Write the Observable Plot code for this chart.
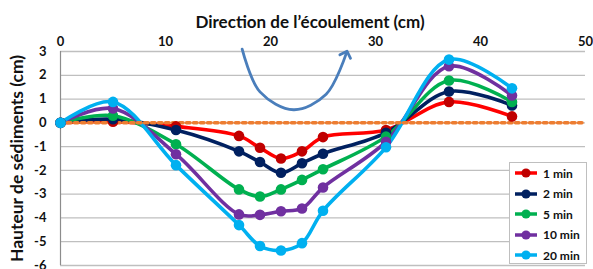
<!DOCTYPE html>
<html>
<head>
<meta charset="utf-8">
<script src="https://cdn.jsdelivr.net/npm/d3@7"></script>
<script src="https://cdn.jsdelivr.net/npm/@observablehq/plot@0.6"></script>
<style>
  html, body { margin: 0; padding: 0; background: #fff; }
  #wrap { position: relative; width: 593px; height: 269px; overflow: hidden; font-family: Lato, "Open Sans", sans-serif; }
  #legend { position: absolute; left: 509px; top: 162px; width: 78px; height: 102px; box-sizing: border-box;
            border: 1px solid #bfbfbf; background: #fff; }
  .row { position: absolute; left: 0; height: 20px; display: flex; align-items: center; }
  .row svg { margin-left: 5px; }
  .row span { margin-left: 6px; font-weight: bold; font-size: 12px; color: #111; }
</style>
</head>
<body>
<div id="wrap"></div>
<script>
const xTitle = "Direction de l\u2019écoulement (cm)";
const yTitle = "Hauteur de sédiments (cm)";
const xTicks = [0, 10, 20, 30, 40, 50];
const yTicks = [3, 2, 1, 0, -1, -2, -3, -4, -5, -6];

const positions = [0, 5, 11, 17, 19, 21, 23, 25, 31, 37, 43];
const seriesNames = ["1 min", "2 min", "5 min", "10 min", "20 min"];
const s1min  = [0, 0.05, -0.15, -0.55, -1.05, -1.5, -1.2, -0.6, -0.3, 0.88, 0.27];
const s2min  = [0, 0.15, -0.3, -1.2, -1.65, -2.1, -1.7, -1.3, -0.42, 1.32, 0.73];
const s5min  = [0, 0.3, -0.9, -2.8, -3.1, -2.8, -2.4, -1.95, -0.58, 1.78, 0.88];
const s10min = [0, 0.6, -1.32, -3.85, -3.87, -3.72, -3.6, -2.72, -0.8, 2.38, 1.15];
const s20min = [0, 0.88, -1.78, -4.3, -5.18, -5.37, -5.06, -3.7, -1.03, 2.66, 1.45];
const lineColors = ["#ff0000", "#002060", "#00b050", "#7030a0", "#00b0f0"];
const dotColors  = ["#c00000", "#002060", "#00b050", "#7030a0", "#00b0f0"];

const zeroX = [0, 50];
const zeroY = [0, 0];

// annotation arrow (flow direction), in data units
const arrowX = [17.3, 19, 22.2, 25.3, 27.2];
const arrowY = [3.1, 1.3, 0.55, 1.2, 2.9];

const allSeries = [s1min, s2min, s5min, s10min, s20min];
const tables = allSeries.map((vals, i) => positions.map((x, j) => ({x, y: vals[j], series: seriesNames[i]})));
const zeroData = zeroX.map((x, i) => ({x, y: zeroY[i]}));
const arrowData = arrowX.map((x, i) => ({x, y: arrowY[i]}));

const font = "Lato, 'Open Sans', sans-serif";
const marks = [
  Plot.gridY(yTicks, {stroke: "#bfbfbf", strokeOpacity: 1, strokeWidth: 1.3}),
  Plot.ruleX([0], {stroke: "#8c8c8c", strokeWidth: 1.2}),
  Plot.axisY(yTicks, {tickSize: 4, tickPadding: 10, fontSize: 13, fontWeight: "bold", fill: "#111", stroke: null,
                      tickFormat: d => String(d), label: null}),
  Plot.axisX(xTicks, {anchor: "top", tickSize: 0, tickPadding: 6, fontSize: 13, fontWeight: "bold", fill: "#111",
                      tickFormat: d => String(d), label: null}),
  Plot.text([xTitle], {frameAnchor: "top", dy: -36, dx: -13, fontSize: 17, fontWeight: "bold", fill: "#111"}),
  Plot.text([yTitle], {frameAnchor: "left", textAnchor: "middle", rotate: -90, dx: -43, fontSize: 17.5, fontWeight: "bold", fill: "#111"}),
  Plot.line(arrowData, {x: "x", y: "y", stroke: "#4a7ebb", strokeWidth: 2.8, curve: "catmull-rom", markerEnd: "arrow"})
];
tables.forEach((t, i) => {
  marks.push(Plot.line(t, {x: "x", y: "y", stroke: lineColors[i], strokeWidth: 3.6, curve: "catmull-rom"}));
});
marks.push(Plot.line(zeroData, {x: "x", y: "y", stroke: "#ed7d31", strokeWidth: 3.5, strokeDasharray: "3.5,3.5"}));
tables.forEach((t, i) => {
  marks.push(Plot.dot(t, {x: "x", y: "y", fill: dotColors[i], r: 5.3}));
});

const chart = Plot.plot({
  width: 593,
  height: 269,
  marginLeft: 60,
  marginRight: 8,
  marginTop: 51,
  marginBottom: 4,
  style: {fontFamily: font, background: "#fff", overflow: "visible"},
  x: {domain: [0, 50], axis: null},
  y: {domain: [-6, 3], axis: null},
  marks
});
const wrap = document.getElementById("wrap");
wrap.appendChild(chart);

// legend
const legend = document.createElement("div");
legend.id = "legend";
seriesNames.forEach((name, i) => {
  const row = document.createElement("div");
  row.className = "row";
  row.style.top = (i * 20.6) + "px";
  row.innerHTML = `<svg width="22" height="12"><line x1="0" y1="6" x2="22" y2="6" stroke="${lineColors[i]}" stroke-width="3.5"/>` +
    `<circle cx="11" cy="6" r="4.6" fill="${dotColors[i]}"/></svg><span>${name}</span>`;
  legend.appendChild(row);
});
wrap.appendChild(legend);
</script>
</body>
</html>
